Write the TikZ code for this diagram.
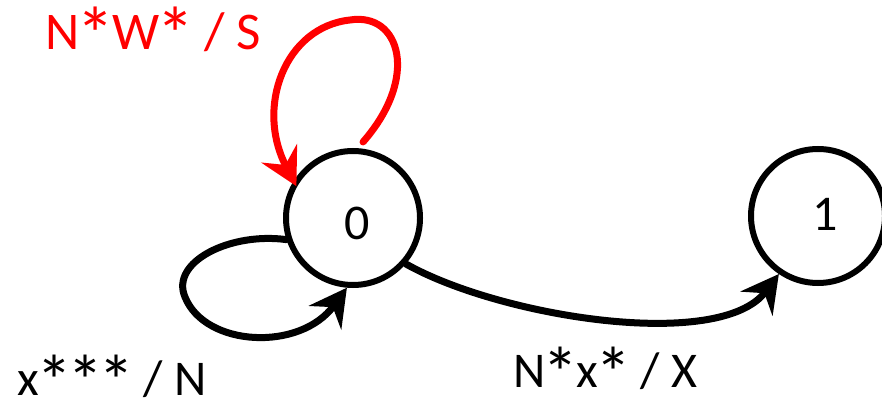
\documentclass[tikz,border=0pt]{standalone}
\usepackage{fontspec}
\usepackage{graphicx}
\setmainfont{Carlito}
\usetikzlibrary{arrows.meta}
\newcommand\bast{\kern-0.05em\raisebox{-0.22em}{\scalebox{1.45}{*}}\kern-0.05em}
\begin{document}
\begin{tikzpicture}[x=1pt,y=1pt,
  state/.style={circle,draw,line width=6pt,minimum size=134pt,inner sep=0pt},
  edge/.style={line width=7pt,line cap=round,-{Stealth[length=37pt,width=40pt,inset=13pt]}},
  lbl/.style={font=\fontsize{50}{60}\selectfont,inner sep=0pt,anchor=base west},
  redc/.style={color=red}]
\useasboundingbox (0,0) rectangle (882,407);
\node[state,label={[font=\fontsize{50}{60}\selectfont,xshift=4pt,yshift=-5pt]center:0}] (n0) at (353,189) {};
\node[state,label={[font=\fontsize{50}{60}\selectfont,xshift=7pt,yshift=2pt]center:1}] (n1) at (818,191) {};
\coordinate (rs) at (363,265);
\draw[edge,redc,shorten >=-6pt] (rs) .. controls (420,330) and (400,395) .. (350,387)
   .. controls (285,380) and (255,300) .. (n0.148);
\draw[edge] (n0.198) .. controls (230,175) and (170,145) .. (185,110)
   .. controls (205,60) and (300,55) .. (n0.265);
\draw[edge] (n0.-41) .. controls (500,90) and (720,55) .. (n1.236);
\node[lbl,redc,font=\fontsize{53}{64}\selectfont] (l0) at (45,357) {N\bast W\bast{} / S};
\node[lbl] (l1) at (17,12) {x\bast\bast\bast{} / N};
\node[lbl] (l2) at (513,20) {N\bast x\bast{} / X};
\end{tikzpicture}
\end{document}
